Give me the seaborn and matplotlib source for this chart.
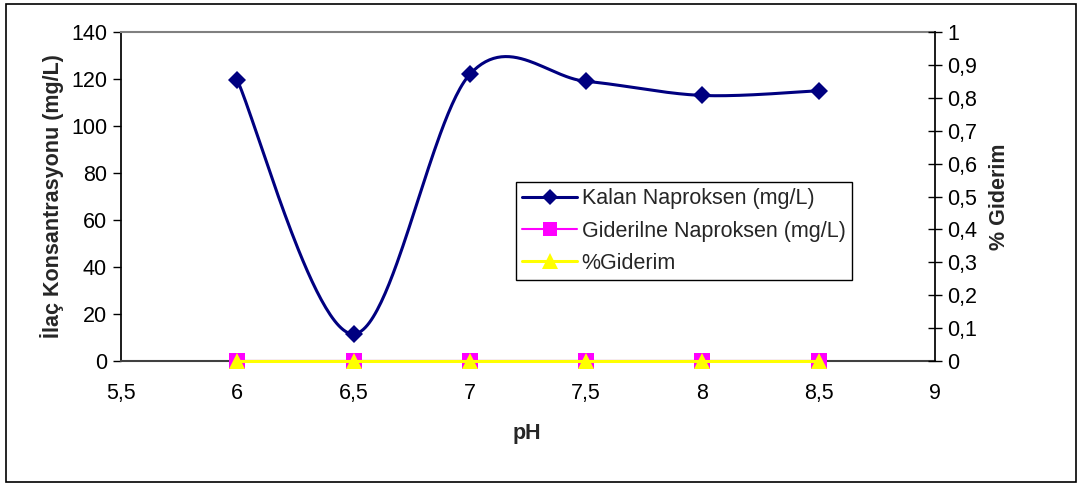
import numpy as np
import pandas as pd
import matplotlib
matplotlib.use("Agg")
import matplotlib.pyplot as plt
from matplotlib.lines import Line2D
from matplotlib.patches import Rectangle
from matplotlib.ticker import FuncFormatter
import seaborn as sns

# ---- data ----
ph = [6.0, 6.5, 7.0, 7.5, 8.0, 8.5]
kalan = [119.5, 11.5, 122.0, 119.0, 113.0, 115.0]
giderilen = [0, 0, 0, 0, 0, 0]
giderim = [0, 0, 0, 0, 0, 0]
x_ticks = [5.5, 6, 6.5, 7, 7.5, 8, 8.5, 9]
y_ticks = [0, 20, 40, 60, 80, 100, 120, 140]
y2_ticks = [0, 0.1, 0.2, 0.3, 0.4, 0.5, 0.6, 0.7, 0.8, 0.9, 1]

sns.set_theme(style="white")
plt.rcParams['font.family'] = ['Liberation Sans', 'DejaVu Sans']
FS = 15.5

NAVY = "#000080"
MAG = "#FF00FF"
YEL = "#FFFF00"


def excel_smooth(xs, ys, n=60):
    """Bezier smoothing like spreadsheet 'smoothed line'."""
    pts = np.column_stack([xs, ys]).astype(float)
    m = len(pts)
    out = []
    for i in range(m - 1):
        p0 = pts[i - 1] if i > 0 else pts[i]
        p1 = pts[i]
        p2 = pts[i + 1]
        p3 = pts[i + 2] if i + 2 < m else pts[i + 1]
        c1 = p1 + (p2 - p0) / 6.0
        c2 = p2 - (p3 - p1) / 6.0
        t = np.linspace(0, 1, n)[:, None]
        b = ((1 - t) ** 3) * p1 + 3 * ((1 - t) ** 2) * t * c1 + 3 * (1 - t) * t ** 2 * c2 + t ** 3 * p2
        out.append(b if i == 0 else b[1:])
    arr = np.vstack(out)
    return arr[:, 0], arr[:, 1]


fig = plt.figure(figsize=(10.82, 4.84), dpi=100)
fig.patch.set_facecolor("white")
ax = fig.add_axes([121 / 1082, 1 - 361 / 484, (935 - 121) / 1082, (361 - 32) / 484])
ax2 = ax.twinx()
ax2.set_zorder(ax.get_zorder() + 1)

sx, sy = excel_smooth(ph, kalan)
smooth_df = pd.DataFrame({"pH": sx, "val": sy})
pts_df = pd.DataFrame({"pH": ph, "kalan": kalan, "gid": giderilen, "pct": giderim})

# Giderilen (magenta) on left axis
sns.lineplot(data=pts_df, x="pH", y="gid", ax=ax, color=MAG, lw=1.5, marker="s",
             markersize=11, markeredgewidth=0, sort=False, zorder=3, clip_on=False)
# Kalan smooth curve
sns.lineplot(data=smooth_df, x="pH", y="val", ax=ax, color=NAVY, lw=2.2, sort=False,
             estimator=None, zorder=4)
ax.plot(ph, kalan, linestyle="none", marker="D", color=NAVY, markersize=9.5,
        markeredgewidth=0, zorder=5)

# %Giderim (yellow) on right axis
sns.lineplot(data=pts_df, x="pH", y="pct", ax=ax2, color=YEL, lw=2.2, marker="^",
             markersize=12, markeredgewidth=0, sort=False, zorder=3, clip_on=False)

ax.set_xlim(5.5, 9)
ax.set_ylim(0, 140)
ax2.set_ylim(0, 1)
ax.set_xticks(x_ticks)
ax.set_yticks(y_ticks)
ax2.set_yticks(y2_ticks)

comma = FuncFormatter(lambda v, p: (f"{v:g}").replace(".", ","))
ax.xaxis.set_major_formatter(comma)
ax2.yaxis.set_major_formatter(comma)

ax.tick_params(axis="x", length=0, labelsize=FS, pad=16, colors="black")
ax.tick_params(axis="y", direction="out", length=6, width=1, labelsize=FS, pad=4,
               colors="black", left=True)
ax2.tick_params(axis="y", direction="inout", length=10, width=1, labelsize=FS, pad=4,
                colors="black", right=True)

for a in (ax, ax2):
    a.set_facecolor("none")
    a.spines["top"].set_color("#808080")
    a.spines["top"].set_linewidth(1.5)
    a.spines["left"].set_color("black")
    a.spines["right"].set_color("black")
    a.spines["bottom"].set_color("#404040")
    a.spines["bottom"].set_linewidth(1.5)
    a.grid(False)
ax.spines["right"].set_visible(False)
ax2.spines["left"].set_visible(False)
ax2.spines["bottom"].set_visible(False)
ax2.spines["top"].set_visible(False)

ax.set_xlabel("pH", fontsize=FS, fontweight="bold")
ax.set_ylabel("İlaç Konsantrasyonu (mg/L)", fontsize=FS, fontweight="bold")
ax2.set_ylabel("% Giderim", fontsize=FS, fontweight="bold")
ax.xaxis.set_label_coords((527 - 121) / (935 - 121), -(433 - 361) / (361 - 32))
ax.xaxis.label.set_va("center")
ax.yaxis.set_label_coords(-(121 - 52) / (935 - 121), 0.5)
ax.yaxis.label.set_va("center")
ax2.yaxis.set_label_coords((1000 - 121) / (935 - 121), 0.5)
ax2.yaxis.label.set_va("center")

handles = [
    Line2D([], [], color=NAVY, lw=2.2, marker="D", markersize=8.5, markeredgewidth=0),
    Line2D([], [], color=MAG, lw=1.5, marker="s", markersize=10, markeredgewidth=0),
    Line2D([], [], color=YEL, lw=2.2, marker="^", markersize=11, markeredgewidth=0),
]
labels = ["Kalan Naproksen (mg/L)", "Giderilne Naproksen (mg/L)", "%Giderim"]
leg = ax2.legend(handles, labels, loc="upper left",
                 bbox_to_anchor=(516 / 1082, 1 - 182 / 484), bbox_transform=fig.transFigure,
                 fontsize=FS, frameon=True, fancybox=False, framealpha=1,
                 edgecolor="black", borderpad=0.3, handlelength=2.55, handletextpad=0.2,
                 labelspacing=0.52, borderaxespad=0, handleheight=0.8)
leg.get_frame().set_linewidth(1.0)

fig.patches.append(Rectangle((6 / 1082, 1 - 482 / 484), 1070 / 1082, 478 / 484,
                             transform=fig.transFigure, fill=False, edgecolor="black",
                             lw=1.2, zorder=0))

fig.savefig("out.png", dpi=100, facecolor="white")
